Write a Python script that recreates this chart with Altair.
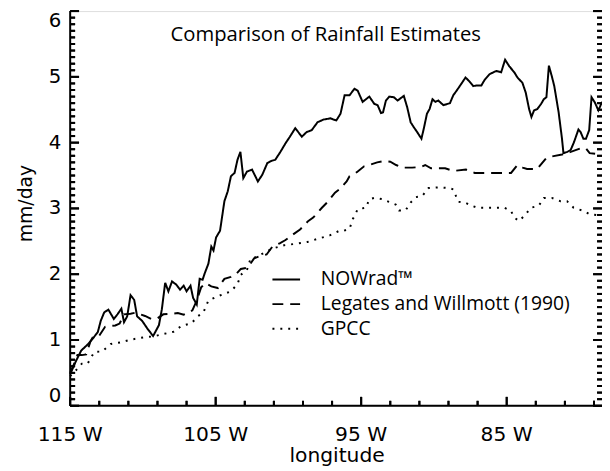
import altair as alt
import pandas as pd

SERIES = ["NOWrad\u2122", "Legates and Willmott (1990)", "GPCC"]
TITLE = "Comparison of Rainfall Estimates"
X_TITLE = "longitude"
Y_TITLE = "mm/day"

NOW_LON = [115.0, 114.6, 114.24, 113.8, 113.45, 113.1, 112.9, 112.66, 112.37, 112.0,
           111.75, 111.48, 111.3, 111.08, 110.85, 110.6, 110.4, 110.05, 109.7, 109.3,
           108.9, 108.7, 108.47, 108.25, 108.0, 107.7, 107.45, 107.2, 107.0, 106.73,
           106.55, 106.3, 106.1, 105.9, 105.75, 105.5, 105.3, 105.15, 104.97, 104.7,
           104.6, 104.4, 104.17, 103.95, 103.7, 103.5, 103.3, 103.1, 102.85, 102.5,
           102.1, 101.8, 101.45, 101.2, 100.9, 100.55, 100.2, 99.9, 99.53, 99.08,
           98.75, 98.4, 98.0, 97.6, 97.1, 96.9, 96.7, 96.42, 96.14, 95.8,
           95.46, 95.24, 94.9, 94.44, 94.1, 93.87, 93.64, 93.5, 93.3, 93.07,
           92.75, 92.5, 92.07, 91.84, 91.6, 91.4, 91.15, 90.86, 90.7, 90.48,
           90.3, 90.1, 89.9, 89.7, 89.35, 88.9, 88.67, 88.44, 88.1, 87.83,
           87.6, 87.3, 87.0, 86.74, 86.5, 86.18, 85.72, 85.38, 85.11, 84.82,
           84.48, 84.26, 83.92, 83.69, 83.46, 83.3, 83.12, 82.9, 82.63, 82.45,
           82.27, 82.1, 81.9, 81.73, 81.43, 81.2, 81.1, 80.83, 80.6, 80.37,
           80.07, 79.92, 79.73, 79.55, 79.33, 79.17, 78.94, 78.7, 78.6, 78.45]
NOW_VAL = [0.48, 0.68, 0.84, 0.93, 1.02, 1.12, 1.29, 1.42, 1.46, 1.32,
           1.39, 1.475, 1.27, 1.36, 1.68, 1.61, 1.36, 1.29, 1.175, 1.06,
           1.225, 1.465, 1.87, 1.74, 1.89, 1.84, 1.765, 1.825, 1.74, 1.825,
           1.64, 1.54, 1.93, 1.915, 2.015, 2.16, 2.42, 2.36, 2.56, 2.66,
           2.81, 3.11, 3.26, 3.49, 3.54, 3.74, 3.86, 3.46, 3.56, 3.59,
           3.41, 3.51, 3.69, 3.72, 3.74, 3.86, 3.99, 4.09, 4.22, 4.09,
           4.16, 4.19, 4.31, 4.35, 4.37, 4.35, 4.34, 4.44, 4.72, 4.72,
           4.82, 4.79, 4.62, 4.70, 4.59, 4.57, 4.45, 4.46, 4.64, 4.70,
           4.69, 4.64, 4.71, 4.54, 4.31, 4.24, 4.16, 4.06, 4.21, 4.44,
           4.51, 4.66, 4.62, 4.64, 4.57, 4.60, 4.72, 4.79, 4.90, 4.99,
           4.94, 4.86, 4.87, 4.87, 4.96, 5.04, 5.09, 5.07, 5.26, 5.16,
           5.07, 4.99, 4.91, 4.76, 4.51, 4.39, 4.49, 4.51, 4.59, 4.66,
           4.69, 5.17, 5.01, 4.86, 4.46, 4.06, 3.84, 3.86, 3.89, 4.01,
           4.20, 4.16, 4.06, 4.06, 4.19, 4.69, 4.61, 4.49, 4.54, 4.62]

LW_LON = [115.0, 114.7, 114.5, 114.2, 113.9, 113.6, 113.45, 113.0, 112.6, 112.3,
          111.9, 111.6, 111.3, 110.85, 110.5, 110.2, 109.85, 109.4, 109.0, 108.6,
          108.0, 107.6, 107.2, 106.9, 106.6, 106.3, 106.0, 105.7, 105.3, 104.85,
          104.4, 103.95, 103.6, 103.27, 102.8, 102.36, 101.9, 101.5, 101.1, 100.6,
          100.2, 99.65, 99.2, 98.63, 98.3, 97.7, 97.3, 96.8, 96.5, 96.0,
          95.8, 95.3, 94.8, 94.44, 93.9, 93.43, 93.0, 92.6, 92.2, 91.5,
          90.9, 90.6, 90.2, 89.23, 88.67, 87.8, 87.2, 86.2, 85.5, 84.7,
          84.26, 83.9, 83.6, 82.9, 82.3, 81.9, 81.2, 80.6, 79.85, 79.55,
          79.3, 78.45]
LW_VAL = [0.50, 0.65, 0.77, 0.77, 0.78, 0.98, 1.04, 1.065, 1.20, 1.21,
          1.22, 1.25, 1.39, 1.40, 1.415, 1.39, 1.365, 1.315, 1.33, 1.39,
          1.40, 1.41, 1.385, 1.415, 1.45, 1.60, 1.80, 1.865, 1.815, 1.79,
          1.93, 1.96, 2.00, 2.08, 2.10, 2.24, 2.28, 2.30, 2.42, 2.47,
          2.52, 2.61, 2.68, 2.81, 2.86, 3.01, 3.10, 3.24, 3.29, 3.41,
          3.49, 3.55, 3.64, 3.66, 3.70, 3.72, 3.71, 3.66, 3.62, 3.62,
          3.63, 3.66, 3.61, 3.61, 3.57, 3.59, 3.54, 3.54, 3.54, 3.54,
          3.66, 3.62, 3.60, 3.60, 3.76, 3.79, 3.82, 3.86, 3.92, 3.91,
          3.84, 3.82]

GP_LON = [115.0, 114.6, 114.2, 113.8, 113.34, 112.8, 112.2, 111.5, 110.85, 109.94,
          109.26, 108.6, 107.9, 107.34, 106.66, 106.2, 105.85, 105.5, 104.85, 103.95,
          103.5, 103.27, 102.85, 102.6, 102.25, 101.8, 101.1, 100.3, 99.4, 98.7,
          97.95, 97.16, 96.5, 96.2, 95.8, 95.57, 95.23, 94.67, 94.44, 94.1,
          93.53, 93.1, 92.63, 92.4, 91.95, 91.6, 91.27, 90.8, 90.37, 89.7,
          89.0, 88.67, 88.33, 87.88, 87.4, 87.0, 86.5, 85.16, 84.7, 84.48,
          84.14, 83.69, 83.35, 82.8, 82.45, 81.9, 81.3, 80.85, 80.4, 79.7,
          79.3, 78.45]
GP_VAL = [0.45, 0.54, 0.64, 0.64, 0.82, 0.825, 0.94, 0.965, 1.005, 1.04,
          1.055, 1.09, 1.125, 1.215, 1.255, 1.365, 1.415, 1.60, 1.665, 1.74,
          1.85, 1.99, 2.065, 2.24, 2.26, 2.31, 2.39, 2.44, 2.465, 2.49,
          2.54, 2.59, 2.66, 2.66, 2.69, 2.84, 2.99, 3.01, 3.14, 3.16,
          3.14, 3.10, 3.06, 2.97, 2.97, 3.09, 3.17, 3.19, 3.31, 3.32,
          3.31, 3.29, 3.10, 3.09, 3.04, 3.01, 3.01, 3.01, 2.96, 2.86,
          2.81, 2.91, 3.01, 3.04, 3.16, 3.16, 3.11, 3.11, 3.01, 2.96,
          2.91, 2.89]

X_DOMAIN = [115, 78.45]
Y_DOMAIN = [0, 6]
X_MAJOR = [115, 105, 95, 85]
X_MINOR = [113, 111, 109, 107, 103, 101, 99, 97, 93, 91, 89, 87, 83, 81, 79]
X_LABELS = ["115 W", "105 W", "95 W", "85 W"]
Y_MAJOR = [0, 1, 2, 3, 4, 5, 6]
Y_MINOR = [i / 10 for i in range(61) if i % 10]
Y_LABELS = ["0", "1", "2", "3", "4", "5", "6"]

rows = []
for name, lons, vals in [(SERIES[0], NOW_LON, NOW_VAL),
                         (SERIES[1], LW_LON, LW_VAL),
                         (SERIES[2], GP_LON, GP_VAL)]:
    for i, (lo, v) in enumerate(zip(lons, vals)):
        rows.append({"series": name, "lon": lo, "val": v, "order": i})
df = pd.DataFrame(rows)

AXFONT = "DejaVu Sans"
TXTFONT = "Open Sans"
W, H = 539, 400
MAJ, MIN = 9, 5

xs = alt.Scale(domain=X_DOMAIN, nice=False, zero=False)
ys = alt.Scale(domain=Y_DOMAIN, nice=False, zero=False)

HIDDEN_AXIS = alt.Axis(labels=False, domain=False, ticks=False, grid=False, title=None)

legend = alt.Legend(title=None, orient="none", legendX=204, legendY=257,
                    symbolType="stroke", symbolSize=784, symbolStrokeWidth=2,
                    labelFont=TXTFONT, labelFontSize=19.5, labelColor="black",
                    labelLimit=400, labelOffset=20, rowPadding=0, padding=0)

main = alt.Chart(df).mark_line(strokeWidth=2).encode(
    x=alt.X("lon:Q", scale=xs, axis=HIDDEN_AXIS),
    y=alt.Y("val:Q", scale=ys, axis=HIDDEN_AXIS),
    color=alt.Color("series:N", scale=alt.Scale(domain=SERIES, range=["black"] * 3),
                    legend=legend),
    strokeDash=alt.StrokeDash("series:N", scale=alt.Scale(
        domain=SERIES, range=[[1, 0], [11, 7], [2, 6]]), legend=legend),
    order="order:Q",
)

one = pd.DataFrame({"k": [0]})


def xticks(values, size):
    d = pd.DataFrame({"t": values})
    rule = alt.Chart(d).mark_rule(strokeWidth=2, color="black").encode(
        x=alt.X("t:Q", scale=xs, axis=None),
        y=alt.value(H), y2=alt.value(H - size))
    tick = alt.Chart(d).mark_tick(orient="vertical", size=size, thickness=2,
                                  color="black", opacity=1).encode(
        x=alt.X("t:Q", scale=xs, axis=None), y=alt.value(H - size / 2))
    return [rule, tick]


def yticks(values, size, right=False):
    d = pd.DataFrame({"t": values})
    x0 = W if right else 0
    x1 = W - size if right else size
    rule = alt.Chart(d).mark_rule(strokeWidth=2, color="black").encode(
        y=alt.Y("t:Q", scale=ys, axis=None),
        x=alt.value(x0), x2=alt.value(x1))
    tick = alt.Chart(d).mark_tick(orient="horizontal", size=size, thickness=2,
                                  color="black", opacity=1).encode(
        y=alt.Y("t:Q", scale=ys, axis=None), x=alt.value((x0 + x1) / 2))
    return [rule, tick]


left_dom = alt.Chart(one).mark_rule(strokeWidth=2, color="black").encode(
    x=alt.value(0), y=alt.value(0), y2=alt.value(H))
bottom_dom = alt.Chart(one).mark_rule(strokeWidth=2, color="black").encode(
    x=alt.value(0), x2=alt.value(W), y=alt.value(H))

xlab = alt.Chart(pd.DataFrame({"t": X_MAJOR, "lab": X_LABELS})).mark_text(
    font=AXFONT, fontSize=20.5, color="black", align="center", baseline="top").encode(
    x=alt.X("t:Q", scale=xs, axis=None), y=alt.value(H + 20), text="lab:N")


def ylab(idx, baseline):
    d = pd.DataFrame({"t": [Y_MAJOR[i] for i in idx], "lab": [Y_LABELS[i] for i in idx]})
    return alt.Chart(d).mark_text(
        font=AXFONT, fontSize=20, color="black", align="right",
        baseline=baseline).encode(
        y=alt.Y("t:Q", scale=ys, axis=None), x=alt.value(-9), text="lab:N")


xtitle = alt.Chart(pd.DataFrame({"t": [X_TITLE]})).mark_text(
    font=AXFONT, fontSize=20.5, color="black", align="center",
    baseline="alphabetic").encode(text="t:N", x=alt.value(W / 2 + 1), y=alt.value(H + 57))
ytitle = alt.Chart(pd.DataFrame({"t": [Y_TITLE]})).mark_text(
    font=AXFONT, fontSize=19, color="black", align="center", angle=270,
    baseline="alphabetic").encode(text="t:N", x=alt.value(-39), y=alt.value(195))
title = alt.Chart(pd.DataFrame({"t": [TITLE]})).mark_text(
    font=TXTFONT, fontSize=20.5, color="black", align="center",
    baseline="alphabetic").encode(text="t:N", x=alt.value(259), y=alt.value(30))

tick_layers = (xticks(X_MAJOR, MAJ) + xticks(X_MINOR, MIN)
               + yticks(Y_MAJOR, MAJ) + yticks(Y_MINOR, MIN)
               + yticks(Y_MAJOR, MAJ, True) + yticks(Y_MINOR, MIN, True))

chart = alt.layer(
    main, *tick_layers,
    left_dom, bottom_dom,
    xlab, ylab([1, 2, 3, 4, 5], "middle"), ylab([6], "top"), ylab([0], "bottom"),
    xtitle, ytitle, title,
).properties(
    width=W, height=H,
    padding={"left": 63, "top": 0, "right": 0, "bottom": 63},
    autosize=alt.AutoSizeParams(type="none"),
).configure_view(strokeWidth=0).configure(background="white")

chart.save("out.html", embed_options={"renderer": "svg", "actions": False})
